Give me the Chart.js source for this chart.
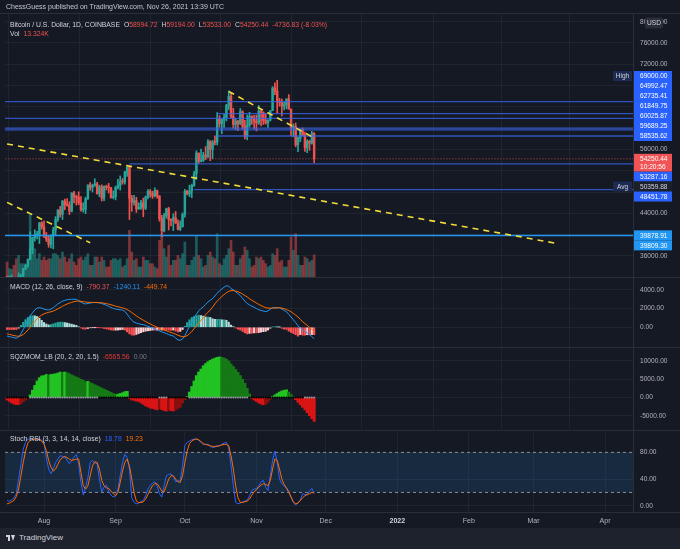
<!DOCTYPE html>
<html><head><meta charset="utf-8">
<script src="https://cdn.jsdelivr.net/npm/chart.js@4.4.0/dist/chart.umd.min.js"></script>
<style>
html,body{margin:0;padding:0;background:#151924;width:680px;height:549px;overflow:hidden;font-family:"Liberation Sans",Arial,sans-serif;}
#wrap{position:relative;width:680px;height:549px;}
canvas{position:absolute;left:0;}
.t{position:absolute;white-space:nowrap;font-size:6.8px;line-height:8px;color:#d1d4dc;z-index:5;}
.t span{margin-left:4px;}
.t span.n{margin-left:0;}
.r{color:#ef5350;}
.sep{position:absolute;left:0;width:680px;height:1px;background:#2a2e39;z-index:4;}
#foot{position:absolute;left:0;top:528px;width:680px;height:21px;background:#1e222d;}
</style></head>
<body><div id="wrap">
<canvas id="cPrice" width="680" height="290" style="top:0px;width:680px;height:290px"></canvas>
<canvas id="cMacd" width="680" height="90" style="top:267px;width:680px;height:90px"></canvas>
<canvas id="cSqz" width="680" height="103" style="top:337px;width:680px;height:103px"></canvas>
<canvas id="cStoch" width="680" height="110" style="top:420px;width:680px;height:110px"></canvas>
<div class="sep" style="top:13px"></div>
<div class="sep" style="top:277px"></div>
<div class="sep" style="top:347px"></div>
<div class="sep" style="top:430px"></div>
<div class="sep" style="top:512px"></div>
<div id="foot"></div>
<div class="t" style="left:6px;top:3px;font-size:7px;color:#c4c7cf">ChessGuess published on TradingView.com, Nov 26, 2021 13:39 UTC</div>
<div class="t" style="left:10px;top:21px">Bitcoin / U.S. Dollar, 1D, COINBASE<span>O</span><span class="r n">58994.72</span><span>H</span><span class="r n">59194.00</span><span>L</span><span class="r n">53533.00</span><span>C</span><span class="r n">54250.44</span><span class="r">-4736.83 (-8.03%)</span></div>
<div class="t" style="left:10px;top:30px">Vol<span class="r">13.324K</span></div>
<div class="t" style="left:10px;top:283px">MACD (12, 26, close, 9)<span style="color:#ef5350">-790.37</span><span style="color:#2196f3">-1240.11</span><span style="color:#ff6d00">-449.74</span></div>
<div class="t" style="left:10px;top:353px">SQZMOM_LB (20, 2, 20, 1.5)<span style="color:#e53935">-6565.56</span><span style="color:#787b86">0.00</span></div>
<div class="t" style="left:10px;top:435px">Stoch RSI (3, 3, 14, 14, close)<span style="color:#2962ff">18.78</span><span style="color:#ff6d00">19.23</span></div>
<div style="position:absolute;left:6px;top:535px;width:4px;height:2px;background:#d1d4dc;z-index:5"></div>
<div style="position:absolute;left:8px;top:535px;width:2px;height:6px;background:#d1d4dc;z-index:5"></div>
<div style="position:absolute;left:11px;top:535px;width:0;height:0;border-left:2.5px solid transparent;border-right:2.5px solid transparent;border-top:6px solid #d1d4dc;z-index:5"></div>
<div class="t" style="left:19px;top:533px;font-size:8px;line-height:10px;color:#d1d4dc">TradingView</div>
</div>
<script>
// ---------------- DATA ----------------
const dates = [
'2021-07-16','2021-07-17','2021-07-18','2021-07-19','2021-07-20','2021-07-21','2021-07-22','2021-07-23','2021-07-24','2021-07-25','2021-07-26','2021-07-27','2021-07-28','2021-07-29','2021-07-30','2021-07-31',
'2021-08-01','2021-08-02','2021-08-03','2021-08-04','2021-08-05','2021-08-06','2021-08-07','2021-08-08','2021-08-09','2021-08-10','2021-08-11','2021-08-12','2021-08-13','2021-08-14','2021-08-15','2021-08-16','2021-08-17','2021-08-18','2021-08-19','2021-08-20','2021-08-21','2021-08-22','2021-08-23','2021-08-24','2021-08-25','2021-08-26','2021-08-27','2021-08-28','2021-08-29','2021-08-30','2021-08-31',
'2021-09-01','2021-09-02','2021-09-03','2021-09-04','2021-09-05','2021-09-06','2021-09-07','2021-09-08','2021-09-09','2021-09-10','2021-09-11','2021-09-12','2021-09-13','2021-09-14','2021-09-15','2021-09-16','2021-09-17','2021-09-18','2021-09-19','2021-09-20','2021-09-21','2021-09-22','2021-09-23','2021-09-24','2021-09-25','2021-09-26','2021-09-27','2021-09-28','2021-09-29','2021-09-30',
'2021-10-01','2021-10-02','2021-10-03','2021-10-04','2021-10-05','2021-10-06','2021-10-07','2021-10-08','2021-10-09','2021-10-10','2021-10-11','2021-10-12','2021-10-13','2021-10-14','2021-10-15','2021-10-16','2021-10-17','2021-10-18','2021-10-19','2021-10-20','2021-10-21','2021-10-22','2021-10-23','2021-10-24','2021-10-25','2021-10-26','2021-10-27','2021-10-28','2021-10-29','2021-10-30','2021-10-31',
'2021-11-01','2021-11-02','2021-11-03','2021-11-04','2021-11-05','2021-11-06','2021-11-07','2021-11-08','2021-11-09','2021-11-10','2021-11-11','2021-11-12','2021-11-13','2021-11-14','2021-11-15','2021-11-16','2021-11-17','2021-11-18','2021-11-19','2021-11-20','2021-11-21','2021-11-22','2021-11-23','2021-11-24','2021-11-25','2021-11-26'];

const open = [
31870,31390,31530,31780,30840,29800,32130,32290,33640,34270,35400,37280,39460,40020,40030,42220,
41490,39860,39150,38200,39720,40870,42840,44620,43830,46280,45600,45550,44430,47830,47100,47040,45990,44680,44740,46760,49330,48870,49290,49510,47700,48980,46850,49070,48900,48810,46990,
47130,48850,49280,49940,49930,51760,52660,46860,46070,46390,44850,45160,46030,44960,47100,48150,47750,47290,48300,47250,42990,40700,43570,44880,42830,42700,43200,42200,41030,41520,
43790,48140,47660,48200,49220,51470,55340,53800,53960,54960,54690,57490,56010,57370,57360,61670,60880,61530,62010,64280,66000,62210,60690,61310,60860,63080,60330,58450,60590,62270,61880,
61320,61000,63230,62940,61440,61010,61530,63310,67550,66950,64950,64830,64150,64400,65500,63600,60100,60360,56900,58100,59750,58700,56300,57570,57180,58994.72];
const high = [
32250,31950,32440,31890,31060,32850,32590,33650,34500,35400,40550,39530,40920,40640,42310,42440,
42600,40430,39770,39970,41390,43390,44720,45330,46450,46680,46770,46200,47880,48140,47380,48050,47150,46000,47050,49380,49800,49500,50500,49850,49280,49370,49200,49310,49640,48900,48240,
49140,50390,51040,50550,51910,52780,52920,47380,47400,47030,45980,46450,46880,47250,48470,48500,48160,48810,48370,47350,43640,44000,44980,45150,42970,43940,44360,42790,42610,44100,
48500,48350,49300,49500,51890,55750,55340,56100,55490,56560,57840,57680,57700,58560,62930,62350,61720,62670,64490,67000,66640,63720,61750,61470,63700,63290,61500,62470,62980,62290,62440,
62450,64270,63530,63100,62620,61590,63300,67800,68530,69000,65600,65480,64990,65500,66310,63600,60800,60970,58360,59860,60050,59290,57850,57740,59400,59194.00];
const low = [
31020,31170,31110,30410,29280,29480,31710,31970,33400,33890,35250,36410,38800,39200,38330,41030,
39420,38710,37640,37510,37350,39880,42480,43290,42850,44680,45350,43770,44280,45980,45560,45630,44400,44230,43950,46640,48330,48020,49060,47610,47130,46330,46370,48370,47820,46860,46730,
46540,48620,48370,49480,49500,50960,42840,44400,45530,44180,44750,44760,43370,44710,46700,47040,46800,47100,46880,42520,39600,40530,43100,40880,41650,40770,42110,40900,40770,41420,
43300,47450,47150,46940,49050,50400,53380,53650,53720,54110,54440,53880,54250,56850,56850,60200,58970,60130,61350,63480,62000,60000,59700,59520,60670,59840,58000,57820,60190,60730,59850,
59500,60700,60410,60700,60750,60130,61350,63310,66320,62820,64130,62300,63420,63630,63550,58600,58390,56500,55600,57460,58530,55650,55390,55850,57010,53533.00];
const close = [
31390,31530,31780,30840,29800,32130,32290,33640,34270,35400,37280,39460,40020,40030,42220,41490,
39860,39150,38200,39720,40870,42840,44620,43830,46280,45600,45550,44430,47830,47100,47040,45990,44680,44740,46760,49330,48870,49290,49510,47700,48980,46850,49070,48900,48810,46990,47130,
48850,49280,49940,49930,51760,52660,46860,46070,46390,44850,45160,46030,44960,47100,48150,47750,47290,48300,47250,42990,40700,43570,44880,42830,42700,43200,42200,41030,41520,43790,
48140,47660,48200,49220,51470,55340,53800,53960,54960,54690,57490,56010,57370,57360,61670,60880,61530,62010,64280,66000,62210,60690,61310,60860,63080,60330,58450,60590,62270,61880,61320,
61000,63230,62940,61440,61010,61530,63310,67550,66950,64950,64830,64150,64400,65500,63600,60100,60360,56900,58100,59750,58700,56300,57570,57180,58990,54250.44];
const volumeK = [
9,5,4.5,7,11,13,8,8,6,7,38,20,17,11,14,10,
12,10,11,11,14,14,13,11,15,12,9,11,14,9,7,11,12,10,12,14,7,7,12,12,9,12,10,6,6,10,11,
11,10,11,6,7,11,28,15,10,11,6,6,12,10,10,8,8,6,5,22,26,17,12,19,7,10,10,13,11,14,
21,7,7,10,12,25,13,11,6,7,13,15,12,11,26,8,7,11,13,17,22,15,7,7,11,13,18,16,11,6,7,
12,11,12,10,8,6,7,14,13,17,9,10,6,6,10,24,16,26,13,7,7,12,11,9,10,13.324];

const macdLine = [
-940,-1000,-1060,-1120,-1180,-1050,-700,-250,250,750,
1200,1550,1850,2050,2100,2050,1950,1880,1850,1950,
2100,2300,2500,2650,2800,2880,2950,2980,3000,3000,
2990,2850,2700,2550,2500,2550,2600,2640,2650,2640,
2600,2550,2450,2350,2250,2120,2020,1950,1900,1870,
1840,1700,1400,1050,750,550,450,380,320,280,
200,100,0,-70,-200,-300,-400,-480,-580,-680,
-780,-880,-940,-1150,-1350,-1390,-1250,-900,-400,100,
600,1000,1400,1750,2000,2190,2450,2700,2900,3060,
3350,3650,3900,4100,4300,4450,4400,4150,4000,3800,
3600,3400,3100,2800,2540,2400,2250,2150,2000,1880,
1800,1730,1670,1750,1950,2090,2100,2100,2090,1950,
1800,1670,1380,1100,800,500,150,-70,-250,-450,
-600,-800,-1000,-1240.11];
const macdSignal = [
-700,-760,-820,-880,-940,-960,-910,-780,-570,-300,
0,310,620,900,1130,1310,1440,1530,1600,1660,
1740,1850,1980,2110,2250,2380,2490,2590,2670,2740,
2790,2800,2780,2740,2700,2680,2660,2660,2660,2650,
2640,2620,2580,2530,2480,2410,2340,2260,2200,2140,
2080,2000,1900,1750,1580,1400,1220,1050,900,760,
620,480,350,230,110,0,-100,-190,-290,-380,
-470,-560,-640,-740,-850,-950,-1010,-1000,-900,-700,
-450,-150,150,450,750,1000,1350,1600,1850,2150,
2500,2800,3050,3300,3500,3700,3850,3920,3930,3880,
3800,3700,3550,3400,3250,3050,2900,2750,2600,2450,
2320,2200,2100,2050,2050,2050,2060,2070,2080,2060,
2000,1900,1800,1650,1480,1300,1100,850,600,400,
200,0,-220,-449.74];
const macdHist = [
-240,-240,-240,-240,-240,-90,210,530,820,1050,
1200,1240,1230,1150,970,740,510,350,250,290,
360,450,520,540,550,500,460,390,330,260,
200,50,-80,-190,-200,-130,-60,-20,-10,-10,
-40,-70,-130,-180,-230,-290,-320,-310,-300,-270,
-240,-300,-500,-700,-830,-850,-770,-670,-580,-480,
-420,-380,-350,-300,-310,-300,-300,-290,-290,-300,
-310,-320,-300,-410,-500,-440,-240,100,500,800,
1050,1150,1250,1300,1250,1190,1100,1100,1050,910,
850,850,850,800,800,750,550,230,70,-80,
-200,-300,-450,-600,-710,-650,-650,-600,-600,-570,
-520,-470,-430,-300,-100,40,40,30,10,-110,
-200,-230,-420,-550,-680,-800,-950,-780,-850,-850,
-800,-800,-780,-790.37];
const sqzMom = [
-700,-1100,-1500,-1800,-1950,-1950,-1700,-1200,-700,-200,
700,2000,3300,4500,5400,5900,6000,6300,6200,6300,
6400,6500,6700,6950,6900,6950,6800,6500,6200,5900,
5600,5300,5000,4700,4300,4400,4100,3800,3500,3200,
2900,2600,2300,2000,1700,1400,1100,890,900,1100,
1300,1600,1700,-300,-700,-800,-1000,-1100,-1500,-1900,
-2300,-2600,-2900,-3000,-3200,-3400,-3100,-3300,-3600,-3700,
-3500,-3600,-3700,-3400,-3000,-2700,-1500,-600,300,1500,
3000,4500,6000,7000,7800,8700,9300,9800,10200,10500,
10800,11000,11100,11000,10800,10500,10000,9200,8500,7700,
6900,6000,5000,3900,2500,1000,-300,-700,-1100,-1500,
-1800,-2000,-1900,-1300,-400,300,700,1100,1500,1800,
2000,2100,1500,800,200,-600,-1300,-2000,-2700,-3400,
-4200,-5000,-5800,-6565.56];
const sqzOffRanges = [[10,39],[66,69],[79,104],[129,133]];
const stochK = [
8,7,9,12,18,40,62,85,95,100,
100,100,100,100,100,98,95,72,55,48,
55,65,70,75,74,73,68,63,68,73,
77,62,35,16,28,42,65,68,64,63,
40,21,28,31,22,16,13,15,25,45,
65,77,72,55,12,5,3,4,6,8,
15,25,30,34,36,30,18,13,30,45,
47,48,44,36,37,38,60,90,95,97,
99,100,100,98,95,92,92,92,89,87,
88,90,90,92,94,95,87,60,30,5,
3,4,6,7,8,15,23,25,26,30,
36,38,28,23,45,68,82,65,40,33,
30,26,20,13,5,1,5,8,18,17,
16,22,26,18.78];
const stochD = [
3,4,6,8,14,25,45,65,82,94,
98,99,100,100,99,97,92,83,68,58,
52,55,62,69,72,74,72,70,68,69,
70,70,50,30,25,30,45,60,66,65,
55,38,30,27,26,22,18,15,20,35,
52,65,70,60,40,20,7,5,5,6,
10,17,24,30,33,33,28,22,21,30,
40,45,45,40,36,35,45,65,82,93,
97,99,100,99,96,93,92,91,90,89,
89,89,90,91,92,92,90,75,55,30,
12,5,5,6,7,10,16,21,24,28,
31,33,32,30,38,55,70,68,55,40,
32,27,21,13,6,3,4,8,12,15,
17,18,20,19.23];

const levelValues = [69000, 64992.47, 62735.41, 61849.75, 60025.87, 59689.25, 58535.62, 53287.16, 50359.88, 48451.78, 39878.91, 39809.30];
const levelKinds  = ['high','line','line','line','line','line','line','line','avg','line','light','light'];
const currentPrice = 54250.44, currentTime = '10:20:56';
const hLineValues = [64992.47, 62735.41, 61849.75, 60025.87, 59689.25, 58535.62, 53287.16, 48451.78, 39878.91, 39809.30];
const hLineStart  = ['2021-07-01','2021-10-15','2021-07-01','2021-07-01','2021-07-01','2021-10-15','2021-09-07','2021-10-05','2021-07-01','2021-07-01'];
const hLineKinds  = ['line','line','line','line','line','line','line','line','light','light'];
const trendLines = [
  [['2021-07-16', 46070], ['2021-08-21', 38480]],
  [['2021-07-16', 57030], ['2022-03-10', 38450]],
  [['2021-10-20', 66900], ['2021-11-25', 58400]]
];
const monthTickDates  = ['2021-08-01','2021-09-01','2021-10-01','2021-11-01','2021-12-01','2022-01-01','2022-02-01','2022-03-01','2022-04-01'];
const monthTickLabels = ['Aug','Sep','Oct','Nov','Dec','2022','Feb','Mar','Apr'];
const priceTicks = [36000,40000,44000,48000,52000,56000,60000,64000,68000,72000,76000,80000];
const macdTicks = [0,2000,4000];
const sqzTicks = [-5000,0,5000,10000];
const stochTicks = [0,40,80];

// ---------------- HELPERS ----------------
const F = '"Liberation Sans", Arial, sans-serif';
Chart.defaults.font.family = F;
const TICK = '#b2b5be', GRID = 'rgba(42,46,57,0.55)';
const UP = '#26a69a', DN = '#ef5350';
const X0 = Date.parse('2021-07-01');
const dayOf = d => (Date.parse(d) - X0) / 86400000;
const xs = dates.map(dayOf);
const X_MIN = 14.1, X_MAX = 286.1, X_END = dayOf('2022-06-01');
const isUp = i => close[i] >= open[i];

function xAxis(show){
  return {type:'linear', min:X_MIN, max:X_MAX, offset:false,
    afterBuildTicks: s => { s.ticks = monthTickDates.map(d => ({value: dayOf(d)})); },
    afterFit: s => { s.height = show ? 18 : 0; },
    ticks:{display:show, autoSkip:false, maxRotation:0, padding:5,
      color: c => c.index === 5 ? '#d1d4dc' : TICK,
      font: c => ({size:7, weight: c.index === 5 ? 'bold' : 'normal'}),
      callback: (v, i) => monthTickLabels[i]},
    grid:{color:GRID, drawTicks:false}, border:{display:false}};
}
function yAxis(min, max, tickVals, colorFn){
  return {position:'right', min, max,
    afterBuildTicks: s => { s.ticks = tickVals.map(v => ({value:v})); },
    afterFit: s => { s.width = 47; },
    ticks:{color: colorFn || TICK, font:{size:6.6}, padding:7, callback: v => Number(v).toFixed(2)},
    grid:{color:GRID, drawTicks:false}, border:{display:true, color:'#2a2e39'}};
}
const baseOpts = {responsive:false, animation:false, events:[],
  plugins:{legend:{display:false}, tooltip:{enabled:false}}};

// label layout for price axis
const kindStyle = {
  high:{bg:'#2962ff', fg:'#ffffff', tag:'High', tagBg:'#1d2a52'},
  line:{bg:'#2962ff', fg:'#ffffff'},
  avg:{bg:'#1c202b', fg:'#d1d4dc', tag:'Avg', tagBg:'#1d2a52'},
  light:{bg:'#2196f3', fg:'#ffffff'}
};
function layoutLevels(s){
  const H = 10, cur = s.getPixelForValue(currentPrice);
  const curTop = cur - 5, curBot = cur + 12.7;
  const items = levelValues.map((v, i) => ({v, i, y: s.getPixelForValue(v), kind: levelKinds[i]}));
  let lim = curTop;
  items.filter(it => it.v > currentPrice).sort((a, b) => b.y - a.y).forEach(it => { it.cy = Math.min(it.y, lim - H/2); lim = it.cy - H/2; });
  lim = curBot;
  items.filter(it => it.v < currentPrice).sort((a, b) => a.y - b.y).forEach(it => { it.cy = Math.max(it.y, lim + H/2); lim = it.cy + H/2; });
  return {items, cur, curTop, curBot};
}
function priceTickColor(c){
  const s = c.chart.scales && c.chart.scales.y;
  if (!s || !c.tick || !s.height) return TICK;
  const py = s.getPixelForValue(c.tick.value);
  const L = layoutLevels(s);
  if (py + 3.5 > L.curTop && py - 3.5 < L.curBot) return 'rgba(0,0,0,0)';
  for (const b of L.items) if (Math.abs(b.cy - py) < 8.5) return 'rgba(0,0,0,0)';
  return TICK;
}
const levelPlugin = {id:'levelLabels', afterDraw(chart){
  const ctx = chart.ctx, s = chart.scales.y, L = layoutLevels(s), ax = chart.chartArea.right + 1;
  ctx.save();
  ctx.font = '6.6px ' + F; ctx.textBaseline = 'middle';
  L.items.forEach(b => {
    const st = kindStyle[b.kind];
    ctx.fillStyle = st.bg; ctx.fillRect(ax, b.cy - 5, 38, 10);
    ctx.fillStyle = st.fg; ctx.textAlign = 'left'; ctx.fillText(levelValues[b.i].toFixed(2), 640, b.cy + 0.5);
    if (st.tag){ ctx.fillStyle = st.tagBg; ctx.fillRect(ax - 21, b.cy - 5, 19, 10);
      ctx.fillStyle = '#d1d4dc'; ctx.textAlign = 'center'; ctx.fillText(st.tag, ax - 11.5, b.cy + 0.5); }
  });
  ctx.fillStyle = '#f05454'; ctx.fillRect(ax, L.curTop, 38, L.curBot - L.curTop);
  ctx.fillStyle = '#ffffff'; ctx.textAlign = 'left';
  ctx.fillText(currentPrice.toFixed(2), 640, L.cur + 0.5);
  ctx.fillText(currentTime, 640, L.cur + 8.7);
  // currency badge
  ctx.fillStyle = '#2a2e39'; ctx.beginPath(); ctx.roundRect(645, 17.5, 18, 11, 2); ctx.fill();
  ctx.fillStyle = '#d1d4dc'; ctx.textAlign = 'center'; ctx.fillText('USD', 654, 23.5);
  ctx.restore();
}};

// ---------------- PRICE PANE ----------------
const priceSets = [
  {type:'bar', yAxisID:'yv', order:9, grouped:false, barThickness:2,
   data: xs.map((x, i) => ({x, y: volumeK[i]})),
   backgroundColor: xs.map((x, i) => isUp(i) ? 'rgba(38,166,154,0.48)' : 'rgba(239,83,80,0.48)')},
  {type:'bar', order:4, grouped:false, barThickness:1,
   data: xs.map((x, i) => ({x, y: [low[i], high[i]]})),
   backgroundColor: xs.map((x, i) => isUp(i) ? UP : DN)},
  {type:'bar', order:3, grouped:false, barThickness:1.8, minBarLength:1,
   data: xs.map((x, i) => ({x, y: [open[i], close[i]]})),
   backgroundColor: xs.map((x, i) => isUp(i) ? UP : DN)}
];
hLineValues.forEach((v, k) => priceSets.push({type:'line', order:1, pointRadius:0, borderWidth:1.3,
  borderColor: hLineKinds[k] === 'light' ? '#2196f3' : 'rgba(56,100,235,0.78)',
  data:[{x: dayOf(hLineStart[k]), y: v}, {x: X_END, y: v}]}));
priceSets.push({type:'line', order:1, pointRadius:0, borderWidth:1, borderDash:[1,2], borderColor:'rgba(239,83,80,0.8)',
  data:[{x: 0, y: currentPrice}, {x: X_END, y: currentPrice}]});
trendLines.forEach(t => priceSets.push({type:'line', order:0, pointRadius:0, borderWidth:1.6, borderDash:[6,5], borderColor:'#f2dc3a',
  data: t.map(p => ({x: dayOf(p[0]), y: p[1]}))}));

new Chart(document.getElementById('cPrice'), {
  type:'bar', data:{datasets: priceSets},
  options: Object.assign({}, baseOpts, {
    layout:{padding:{left:5, right:0, top:14, bottom:13}},
    scales:{x: xAxis(false), y: yAxis(32056, 81446, priceTicks, priceTickColor), yv:{display:false, min:0, max:158}}
  }),
  plugins:[levelPlugin]
});

// ---------------- MACD PANE ----------------
const histColor = i => {
  const v = macdHist[i], p = i > 0 ? macdHist[i-1] : v;
  if (v >= 0) return v >= p ? '#26a69a' : '#b2dfdb';
  return v <= p ? '#ff5252' : '#ffcdd2';
};
new Chart(document.getElementById('cMacd'), {
  type:'bar',
  data:{datasets:[
    {type:'bar', order:3, grouped:false, barThickness:1.5, data: xs.map((x, i) => ({x, y: macdHist[i]})), backgroundColor: xs.map((x, i) => histColor(i))},
    {type:'line', order:1, pointRadius:0, borderWidth:1, borderColor:'#2196f3', data: xs.map((x, i) => ({x, y: macdLine[i]}))},
    {type:'line', order:0, pointRadius:0, borderWidth:1, borderColor:'#ff6d00', data: xs.map((x, i) => ({x, y: macdSignal[i]}))}
  ]},
  options: Object.assign({}, baseOpts, {
    layout:{padding:{left:5, right:0, top:10, bottom:10}},
    scales:{x: xAxis(false), y: yAxis(-2010, 5281, macdTicks)}
  })
});

// ---------------- SQZMOM PANE ----------------
const sqzColor = i => {
  const v = sqzMom[i], p = i > 0 ? sqzMom[i-1] : v;
  if (v >= 0) return v >= p ? '#22c322' : '#157a15';
  return v <= p ? '#d81414' : '#8a0f0f';
};
const isOff = i => sqzOffRanges.some(r => i >= r[0] && i <= r[1]);
new Chart(document.getElementById('cSqz'), {
  type:'bar',
  data:{datasets:[
    {type:'bar', order:3, grouped:false, barThickness:2.4, data: xs.map((x, i) => ({x, y: sqzMom[i]})), backgroundColor: xs.map((x, i) => sqzColor(i))},
    {type:'line', order:0, showLine:false, pointRadius:1, pointBorderWidth:0,
     pointBackgroundColor: xs.map((x, i) => isOff(i) ? '#9598a1' : '#000000'),
     data: xs.map(x => ({x, y: 0}))}
  ]},
  options: Object.assign({}, baseOpts, {
    layout:{padding:{left:5, right:0, top:10, bottom:10}},
    scales:{x: xAxis(false), y: yAxis(-8636, 13556, sqzTicks)}
  })
});

// ---------------- STOCH RSI PANE ----------------
new Chart(document.getElementById('cStoch'), {
  type:'line',
  data:{datasets:[
    {order:5, pointRadius:0, borderWidth:1, borderDash:[3,3], borderColor:'#8a8e99', data:[{x:X_MIN, y:80}, {x:X_MAX, y:80}]},
    {order:5, pointRadius:0, borderWidth:1, borderDash:[3,3], borderColor:'#8a8e99', fill:'-1', backgroundColor:'rgba(33,150,243,0.14)', data:[{x:X_MIN, y:20}, {x:X_MAX, y:20}]},
    {order:1, pointRadius:0, borderWidth:1, borderColor:'#2962ff', data: xs.map((x, i) => ({x, y: stochK[i]}))},
    {order:0, pointRadius:0, borderWidth:1, borderColor:'#ff6d00', data: xs.map((x, i) => ({x, y: stochD[i]}))}
  ]},
  options: Object.assign({}, baseOpts, {
    layout:{padding:{left:5, right:0, top:10, bottom:0}},
    scales:{x: xAxis(true), y: yAxis(-9.3, 112.1, stochTicks)}
  })
});
</script>
</body></html>
